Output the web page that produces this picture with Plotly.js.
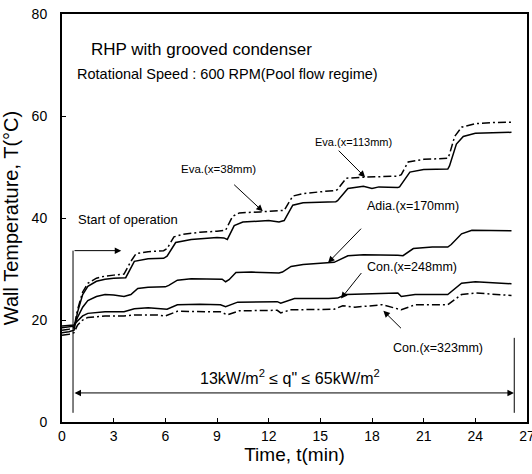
<!DOCTYPE html>
<html>
<head>
<meta charset="utf-8">
<script src="https://cdn.plot.ly/plotly-3.0.1.min.js"></script>
<style>
  html, body { margin: 0; padding: 0; background: #fff; }
  #chart { width: 532px; height: 474px; }
</style>
</head>
<body>
<div id="chart"></div>
<script>
// ---- data (time in min, wall temperature in °C) ----
const evaDashT = [0, 0.4, 0.7, 0.9, 1.2, 1.5, 2.0, 2.5, 3.0, 3.6, 4.0, 4.3, 5.0, 5.9, 6.1, 6.5, 7.0, 8.0, 9.0, 9.5, 9.9, 10.3, 11.5, 12.4, 12.9, 13.4, 14.0, 15.5, 15.9, 16.0, 16.5, 17.5, 19.5, 19.7, 20.1, 21.0, 22.4, 22.5, 22.8, 23.2, 24.0, 25.0, 26.1];
const evaDashV = [18.0, 18.2, 18.5, 22.0, 25.5, 27.2, 28.2, 28.6, 28.8, 29.0, 31.5, 33.0, 33.4, 33.6, 34.0, 36.3, 36.8, 37.2, 37.4, 37.6, 40.3, 41.0, 41.2, 41.4, 41.5, 44.3, 44.8, 45.3, 45.4, 45.6, 47.8, 48.0, 48.2, 48.5, 51.0, 51.5, 51.7, 52.5, 56.0, 57.8, 58.5, 58.7, 58.8];

const evaSolidT = [0, 0.4, 0.7, 0.9, 1.2, 1.5, 2.0, 2.5, 3.0, 3.7, 4.2, 5.0, 5.9, 6.1, 6.6, 7.5, 9.0, 9.4, 9.6, 10.0, 10.5, 12.0, 12.6, 12.9, 13.4, 14.0, 15.9, 16.0, 16.6, 17.5, 18.0, 18.4, 19.5, 19.6, 20.2, 21.0, 22.4, 22.5, 22.9, 23.3, 24.0, 26.1];
const evaSolidV = [17.5, 17.7, 18.0, 21.5, 25.0, 26.6, 27.6, 28.0, 28.2, 28.3, 31.5, 32.0, 32.1, 32.5, 35.2, 35.8, 36.2, 36.1, 35.8, 38.5, 39.2, 39.5, 39.2, 39.5, 42.5, 43.0, 43.2, 43.4, 45.8, 46.2, 45.8, 46.1, 46.0, 46.1, 49.0, 49.5, 49.6, 50.2, 54.5, 56.0, 56.6, 56.8];

const adiaT = [0, 0.4, 0.7, 0.9, 1.2, 1.5, 2.0, 2.5, 3.0, 3.6, 4.0, 4.4, 5.0, 6.0, 6.2, 6.7, 7.5, 9.3, 9.5, 9.7, 10.1, 11.0, 12.6, 12.8, 13.3, 14.0, 15.5, 15.8, 16.6, 17.5, 19.5, 19.8, 20.4, 21.5, 22.4, 22.6, 23.2, 23.8, 26.1];
const adiaV = [18.5, 18.6, 18.8, 20.5, 22.5, 23.8, 24.6, 25.0, 24.9, 24.6, 25.0, 26.2, 26.4, 26.5, 26.8, 27.8, 28.1, 28.0, 27.5, 27.9, 29.3, 29.4, 29.2, 29.4, 30.5, 30.9, 31.3, 31.3, 32.6, 32.8, 32.7, 32.6, 34.0, 34.3, 34.3, 34.8, 36.9, 37.6, 37.5];

const con248T = [0, 0.4, 0.7, 0.9, 1.2, 1.5, 2.5, 3.6, 4.2, 5.0, 5.8, 6.1, 6.7, 8.0, 9.2, 9.5, 10.2, 12.5, 12.7, 13.5, 15.5, 16.0, 16.5, 19.5, 19.7, 20.5, 22.4, 23.2, 24.0, 26.1];
const con248V = [18.8, 18.9, 19.0, 19.8, 20.8, 21.3, 21.6, 21.6, 22.2, 22.4, 22.2, 22.1, 23.0, 23.1, 23.0, 22.6, 23.5, 23.6, 23.3, 24.2, 24.2, 24.3, 25.0, 25.3, 24.6, 25.0, 25.0, 27.2, 27.5, 27.1];

const con323T = [0, 0.4, 0.7, 0.9, 1.2, 1.5, 2.5, 3.6, 4.2, 5.5, 6.0, 6.7, 9.2, 9.6, 10.3, 12.5, 12.7, 13.3, 15.8, 16.3, 17.0, 18.6, 19.7, 20.5, 22.4, 23.2, 24.0, 26.1];
const con323V = [17.0, 17.2, 17.5, 19.0, 20.0, 20.5, 20.8, 20.8, 21.0, 21.0, 20.8, 21.7, 21.6, 21.0, 21.8, 21.9, 21.4, 22.0, 22.1, 22.8, 22.5, 23.0, 22.0, 23.0, 23.0, 25.0, 25.3, 24.8];

const xTicks = [0, 3, 6, 9, 12, 15, 18, 21, 24, 27];
const yTicks = [0, 20, 40, 60, 80];

// ---- drawing ----
const FONT = 'Liberation Sans, Arial, Helvetica, sans-serif';
const DASHDOT = '8px,3px,2px,3px';
function series(x, y, name, dash) {
  return { x: x, y: y, name: name, type: 'scatter', mode: 'lines',
           line: { color: '#000', width: 1.5, dash: dash }, hoverinfo: 'skip' };
}
const data = [
  series(evaDashT, evaDashV, 'Eva.(x=38mm)', DASHDOT),
  series(evaSolidT, evaSolidV, 'Eva.(x=113mm)', 'solid'),
  series(adiaT, adiaV, 'Adia.(x=170mm)', 'solid'),
  series(con248T, con248V, 'Con.(x=248mm)', 'solid'),
  series(con323T, con323V, 'Con.(x=323mm)', DASHDOT)
];

function label(x, y, text, size) {
  return { x: x, y: y, xref: 'x', yref: 'y', text: text, showarrow: false,
           xanchor: 'left', yanchor: 'middle', font: { family: FONT, size: size || 11, color: '#000' } };
}
function arrow(x, y, ax, ay, side) {
  return { x: x, y: y, ax: ax, ay: ay, xref: 'x', yref: 'y', axref: 'x', ayref: 'y',
           text: '', showarrow: true, arrowhead: 2, arrowsize: 1.3, arrowwidth: 1,
           arrowcolor: '#000', arrowside: side || 'end', standoff: 0, startstandoff: 0 };
}

const layout = {
  width: 532, height: 474,
  margin: { l: 62, r: 5, t: 14, b: 52 },
  paper_bgcolor: '#fff', plot_bgcolor: '#fff',
  showlegend: false,
  font: { family: FONT, color: '#000', size: 12 },
  xaxis: {
    range: [0, 27], tickvals: xTicks, ticktext: xTicks.map(String),
    showgrid: false, zeroline: false, showline: true, linecolor: '#000', linewidth: 2, mirror: true,
    ticks: 'inside', ticklen: 4, tickwidth: 1, tickcolor: '#000',
    tickfont: { family: FONT, size: 14, color: '#000' }, ticklabelstandoff: 0,
    ticklabeloverflow: 'allow', automargin: false,
    title: { text: 'Time, t(min)', font: { family: FONT, size: 19, color: '#000' }, standoff: 0 }
  },
  yaxis: {
    range: [0, 80], tickvals: yTicks, ticktext: yTicks.map(String),
    showgrid: false, zeroline: false, showline: true, linecolor: '#000', linewidth: 2, mirror: true,
    ticks: 'inside', ticklen: 4, tickwidth: 1, tickcolor: '#000',
    tickfont: { family: FONT, size: 14, color: '#000' }, ticklabelstandoff: 10,
    automargin: false,
    title: { text: 'Wall Temperature, T(°C)', font: { family: FONT, size: 20, color: '#000' }, standoff: 8 }
  },
  annotations: [
    label(1.57, 73.1, 'RHP with grooved condenser', 17),
    label(0.76, 68.2, 'Rotational Speed : 600 RPM(Pool flow regime)', 14.5),
    label(6.82, 49.7, 'Eva.(x=38mm)', 11.5),
    label(14.58, 55.0, 'Eva.(x=113mm)', 11),
    label(0.82, 39.7, 'Start of operation', 13),
    label(17.6, 42.3, 'Adia.(x=170mm)', 12.5),
    label(17.6, 30.3, 'Con.(x=248mm)', 12.5),
    label(19.1, 14.5, 'Con.(x=323mm)', 12.5),
    label(7.9, 8.85, '13kW/m<sup>2</sup> ≤ q" ≤ 65kW/m<sup>2</sup>', 16),
    arrow(11.66, 41.3, 9.91, 46.8),
    arrow(17.6, 48.0, 15.98, 53.5),
    arrow(15.45, 31.25, 17.45, 38.2),
    arrow(16.2, 24.2, 17.45, 29.5),
    arrow(18.66, 21.8, 19.77, 18.1),
    arrow(3.44, 33.6, 0.64, 33.6),
    arrow(26.24, 5.7, 0.64, 5.7, 'end+start')
  ],
  shapes: [
    { type: 'line', xref: 'x', yref: 'y', x0: 0.64, x1: 0.64, y0: 33.6, y1: 1.8, line: { color: '#000', width: 1 } },
    { type: 'line', xref: 'x', yref: 'y', x0: 26.26, x1: 26.26, y0: 16.5, y1: 1.8, line: { color: '#000', width: 1 } }
  ]
};

Plotly.newPlot('chart', data, layout, { staticPlot: true, displayModeBar: false });
</script>
</body>
</html>
